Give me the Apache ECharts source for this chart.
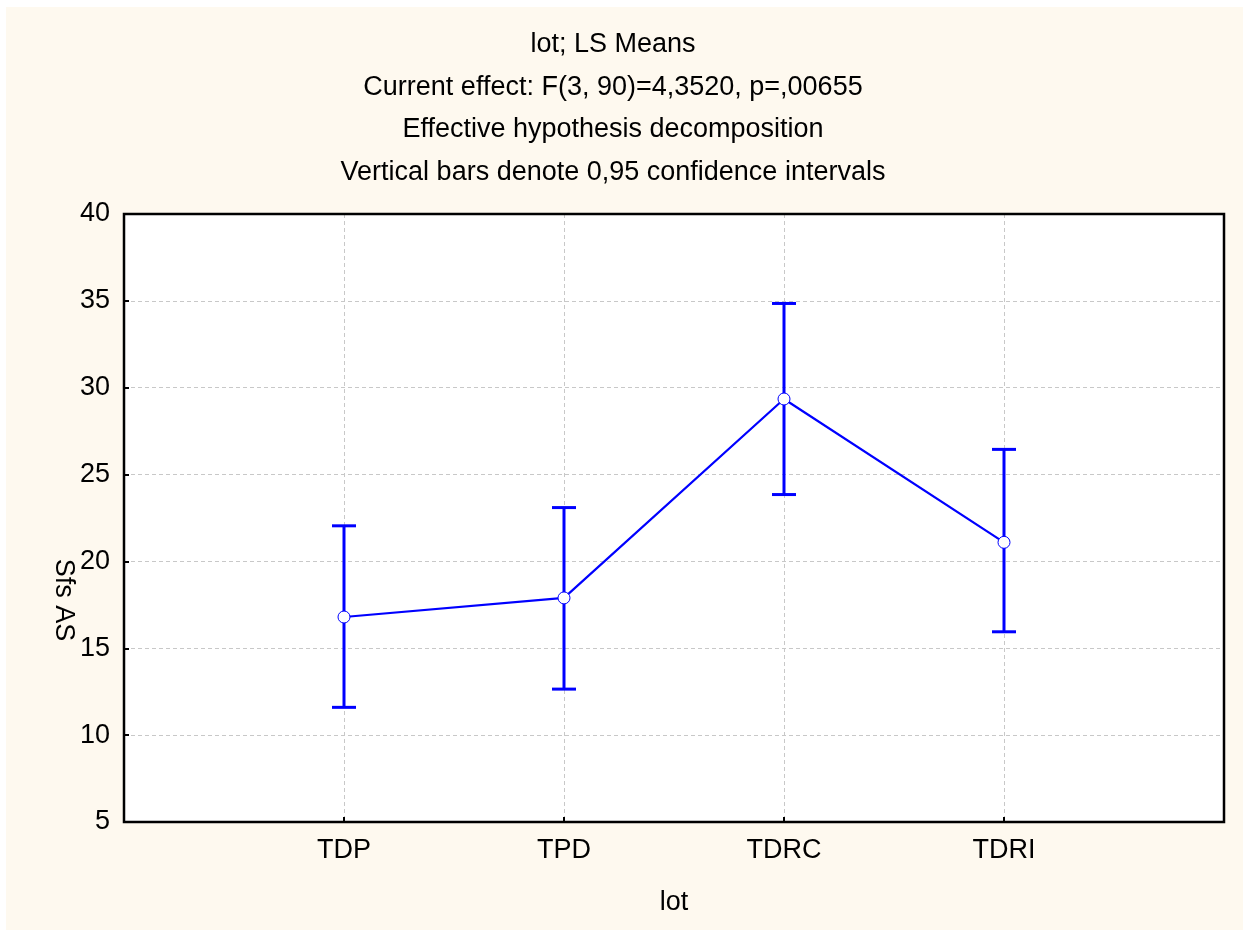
<!DOCTYPE html>
<html>
<head>
<meta charset="utf-8">
<script src="https://cdn.jsdelivr.net/npm/echarts@6/dist/echarts.min.js"></script>
<style>
  html, body { margin: 0; padding: 0; background: #fff; }
  #main { width: 1249px; height: 937px; }
</style>
</head>
<body>
<div id="main"></div>
<script>
// ---- data
var categories = ['TDP', 'TPD', 'TDRC', 'TDRI'];
var means = [16.8, 17.9, 29.35, 21.1];
var upper = [22.05, 23.1, 34.85, 26.45];
var lower = [11.6, 12.65, 23.85, 15.95];
var yTicks = { min: 5, max: 40, step: 5 };
var titleLines = [
    'lot; LS Means',
    'Current effect: F(3, 90)=4,3520, p=,00655',
    'Effective hypothesis decomposition',
    'Vertical bars denote 0,95 confidence intervals'
];

var FONT = '"Liberation Sans", Arial, sans-serif';
var FS = 27;
var BLUE = '#0000ff';

// pad with empty slots so the 4 groups sit at 1..4 of 0..5
var axisCats = [''].concat(categories, ['']);
var meanData = [];
var errData = [];
categories.forEach(function (c, i) {
    meanData.push([c, means[i]]);
    errData.push([c, lower[i], upper[i]]);
});

var titleGraphics = titleLines.map(function (t, i) {
    return {
        type: 'text', x: 613, y: 45 + i * 42.4, z: 10,
        style: { text: t, fill: '#000', font: FS + 'px ' + FONT, align: 'center', verticalAlign: 'middle' }
    };
});

window.myChart = echarts.init(document.getElementById('main'));
var option = {
    backgroundColor: '#ffffff',
    animation: false,
    graphic: [
        { type: 'rect', shape: { x: 6, y: 7, width: 1237, height: 923 }, style: { fill: '#fef9ef' }, z: -10 },
        // frame of the plot, drawn over the grid lines
        { type: 'rect', shape: { x: 124, y: 214, width: 1100, height: 608 }, style: { fill: null, stroke: '#000', lineWidth: 2.5 }, z: 50 },
        {
            type: 'text', x: 63, y: 600, rotation: -Math.PI / 2, z: 10,
            style: { text: 'Sfs AS', fill: '#000', font: FS + 'px ' + FONT, align: 'center', verticalAlign: 'middle' }
        }
    ].concat(titleGraphics),
    grid: {
        left: 124, right: 25, top: 214, bottom: 115,
        show: true, backgroundColor: '#ffffff', borderColor: '#000', borderWidth: 2
    },
    xAxis: {
        type: 'category',
        data: axisCats,
        boundaryGap: false,
        name: 'lot',
        nameLocation: 'middle',
        nameGap: 67,
        nameTextStyle: { fontSize: FS, color: '#000', fontFamily: FONT },
        axisLine: { lineStyle: { color: '#000', width: 2 } },
        axisTick: { inside: true, length: 5, interval: 0, lineStyle: { color: '#000', width: 2 } },
        axisLabel: { interval: 0, fontSize: FS, color: '#000', fontFamily: FONT, margin: 15 },
        splitLine: { show: true, interval: 0, lineStyle: { color: '#c8c8c8', type: [4, 3], width: 1 } }
    },
    yAxis: {
        type: 'value',
        min: yTicks.min, max: yTicks.max, interval: yTicks.step,
        axisLine: { show: true, lineStyle: { color: '#000', width: 2 } },
        axisTick: { show: true, inside: true, length: 5, lineStyle: { color: '#000', width: 2 } },
        axisLabel: { fontSize: FS, color: '#000', fontFamily: FONT, margin: 14 },
        splitLine: { show: true, lineStyle: { color: '#c8c8c8', type: [4, 3], width: 1 } }
    },
    series: [
        {
            type: 'custom',
            z: 1,
            data: errData,
            renderItem: function (params, api) {
                var lo = api.coord([api.value(0), api.value(1)]);
                var hi = api.coord([api.value(0), api.value(2)]);
                var hw = 12;
                var st = { stroke: BLUE, lineWidth: 3 };
                return {
                    type: 'group',
                    children: [
                        { type: 'line', shape: { x1: hi[0], y1: hi[1], x2: lo[0], y2: lo[1] }, style: st },
                        { type: 'line', shape: { x1: hi[0] - hw, y1: hi[1], x2: hi[0] + hw, y2: hi[1] }, style: st },
                        { type: 'line', shape: { x1: lo[0] - hw, y1: lo[1], x2: lo[0] + hw, y2: lo[1] }, style: st }
                    ]
                };
            }
        },
        {
            type: 'line',
            z: 3,
            data: meanData,
            symbol: 'circle',
            symbolSize: 12,
            lineStyle: { color: BLUE, width: 2.2 },
            itemStyle: { color: '#ffffff', borderColor: BLUE, borderWidth: 1 }
        }
    ]
};
myChart.setOption(option);
</script>
</body>
</html>
